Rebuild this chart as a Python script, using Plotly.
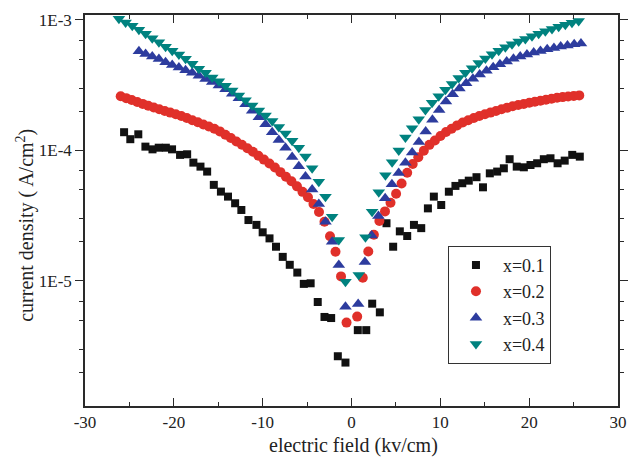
import plotly.graph_objects as go

# ---------------- data ----------------
series_names = ["x=0.1", "x=0.2", "x=0.3", "x=0.4"]

# x = 0.1  (black squares)
e_01 = [-25.6, -24.9, -24.0, -23.2, -22.4, -21.7, -20.9, -20.2, -19.3, -18.5,
        -17.8, -17.0, -16.25, -15.5, -14.7, -13.9, -13.1, -12.4, -11.6, -10.7,
        -10.0, -9.23, -8.5, -7.74, -6.95, -6.1, -5.37, -4.6, -3.8, -3.04,
        -2.29, -1.54, -0.68,
        0.71, 1.66, 2.33, 3.19, 3.94, 4.69, 5.44, 6.27, 7.03, 7.85,
        8.6, 9.27, 10.1, 10.96, 11.7, 12.47, 13.2, 14.07, 14.8, 15.57,
        16.4, 17.15, 17.8, 18.6, 19.4, 20.15, 20.9, 21.65, 22.4, 23.2,
        24.0, 24.85, 25.7]
j_01 = [1.38e-4, 1.22e-4, 1.33e-4, 1.07e-4, 1.02e-4, 1.05e-4, 1.05e-4, 1.02e-4, 9.25e-5, 9.35e-5,
        8.07e-5, 7.52e-5, 6.89e-5, 5.45e-5, 4.84e-5, 4.43e-5, 3.94e-5, 3.50e-5, 2.93e-5, 2.69e-5,
        2.36e-5, 2.12e-5, 1.83e-5, 1.53e-5, 1.33e-5, 1.16e-5, 9.5e-6, 9.6e-6, 6.9e-6, 5.3e-6,
        5.2e-6, 2.65e-6, 2.37e-6,
        4.2e-6, 4.2e-6, 6.7e-6, 5.75e-6, 2.77e-5, 1.83e-5, 2.4e-5, 2.21e-5, 2.69e-5, 2.54e-5,
        3.6e-5, 4.43e-5, 3.82e-5, 4.83e-5, 5.35e-5, 5.61e-5, 5.87e-5, 6.24e-5, 5.22e-5, 6.68e-5,
        6.89e-5, 7.3e-5, 8.57e-5, 7.52e-5, 7.43e-5, 7.74e-5, 7.98e-5, 8.57e-5, 8.71e-5, 7.98e-5,
        8.36e-5, 9.25e-5, 8.97e-5]

# x = 0.2  (red circles)  -- log10 of current density
e_02 = [-25.98, -25.36, -24.74, -24.12, -23.50, -22.88, -22.26, -21.64, -21.02, -20.40,
        -19.78, -19.16, -18.54, -17.92, -17.30, -16.68, -16.06, -15.44, -14.82, -14.20,
        -13.58, -12.96, -12.34, -11.72, -11.10, -10.48, -9.86, -9.24, -8.62, -8.00,
        -7.38, -6.76, -6.14, -5.52, -4.90, -4.28, -3.66, -3.04, -2.42, -1.80,
        -1.18, -0.56,
        0.64, 1.27, 1.89, 2.52, 3.14, 3.77, 4.39, 5.02, 5.64, 6.27,
        6.89, 7.52, 8.14, 8.77, 9.39, 10.02, 10.64, 11.27, 11.89, 12.52,
        13.14, 13.77, 14.39, 15.02, 15.64, 16.27, 16.89, 17.52, 18.14, 18.77,
        19.39, 20.02, 20.64, 21.27, 21.89, 22.52, 23.14, 23.77, 24.39, 25.02,
        25.64]
logj_02 = [-3.584, -3.599, -3.613, -3.628, -3.643, -3.657, -3.671, -3.684, -3.697, -3.710,
           -3.723, -3.736, -3.751, -3.768, -3.784, -3.801, -3.817, -3.834, -3.854, -3.880,
           -3.905, -3.931, -3.956, -3.983, -4.010, -4.040, -4.070, -4.100, -4.131, -4.166,
           -4.201, -4.236, -4.275, -4.317, -4.359, -4.410, -4.471, -4.546, -4.657, -4.776,
           -4.965, -5.319,
           -5.273, -4.975, -4.774, -4.646, -4.540, -4.467, -4.400, -4.332, -4.253, -4.171,
           -4.104, -4.052, -4.002, -3.957, -3.923, -3.889, -3.858, -3.833, -3.808, -3.786,
           -3.769, -3.751, -3.736, -3.723, -3.710, -3.697, -3.684, -3.672, -3.661, -3.652,
           -3.644, -3.635, -3.627, -3.619, -3.611, -3.604, -3.596, -3.591, -3.586, -3.582,
           -3.578]

# x = 0.3  (blue up-triangles)
e_03 = [-23.93, -23.18, -22.43, -21.68, -20.93, -20.18, -19.43, -18.68, -17.93, -17.18,
        -16.43, -15.68, -14.93, -14.18, -13.43, -12.68, -11.93, -11.18, -10.43, -9.68,
        -8.93, -8.18, -7.43, -6.68, -5.93, -5.18, -4.43, -3.68, -2.93, -2.18,
        -1.43, -0.68,
        0.75, 1.51, 2.27, 3.03, 3.79, 4.55, 5.31, 6.07, 6.83, 7.59,
        8.35, 9.11, 9.87, 10.63, 11.39, 12.15, 12.91, 13.67, 14.43, 15.19,
        15.95, 16.71, 17.47, 18.23, 18.99, 19.75, 20.51, 21.27, 22.03, 22.79,
        23.55, 24.31, 25.07, 25.83]
logj_03 = [-3.240, -3.260, -3.280, -3.300, -3.325, -3.345, -3.365, -3.385, -3.405, -3.428,
           -3.452, -3.476, -3.502, -3.530, -3.565, -3.600, -3.645, -3.695, -3.745, -3.800,
           -3.860, -3.920, -3.980, -4.050, -4.120, -4.200, -4.300, -4.410, -4.546, -4.699,
           -4.877, -5.197,
           -5.176, -4.855, -4.652, -4.502, -4.367, -4.258, -4.172, -4.095, -4.015, -3.935,
           -3.855, -3.765, -3.690, -3.625, -3.570, -3.525, -3.485, -3.450, -3.418, -3.390,
           -3.362, -3.340, -3.318, -3.298, -3.280, -3.264, -3.250, -3.237, -3.225, -3.214,
           -3.204, -3.195, -3.187, -3.180]

# x = 0.4  (teal down-triangles)
e_04 = [-26.18, -25.43, -24.68, -23.93, -23.18, -22.43, -21.68, -20.93, -20.18, -19.43,
        -18.68, -17.93, -17.18, -16.43, -15.68, -14.93, -14.18, -13.43, -12.68, -11.93,
        -11.18, -10.43, -9.68, -8.93, -8.18, -7.43, -6.68, -5.93, -5.18, -4.43,
        -3.68, -2.93, -2.18, -1.43, -0.68,
        0.82, 1.57, 2.32, 3.07, 3.82, 4.57, 5.32, 6.07, 6.82, 7.57,
        8.32, 9.07, 9.82, 10.57, 11.32, 12.07, 12.82, 13.57, 14.32, 15.07,
        15.82, 16.57, 17.32, 18.07, 18.82, 19.57, 20.32, 21.07, 21.82, 22.57,
        23.32, 24.07, 24.82, 25.57]
logj_04 = [-2.990, -3.020, -3.045, -3.075, -3.105, -3.140, -3.170, -3.205, -3.235, -3.265,
           -3.298, -3.335, -3.373, -3.405, -3.440, -3.470, -3.505, -3.540, -3.578, -3.615,
           -3.655, -3.693, -3.732, -3.775, -3.820, -3.870, -3.925, -3.980, -4.047, -4.137,
           -4.239, -4.354, -4.507, -4.686, -5.005,
           -4.954, -4.665, -4.469, -4.320, -4.190, -4.090, -4.000, -3.900, -3.830, -3.760,
           -3.690, -3.635, -3.585, -3.535, -3.490, -3.445, -3.405, -3.370, -3.330, -3.295,
           -3.262, -3.235, -3.210, -3.187, -3.165, -3.145, -3.125, -3.105, -3.087, -3.070,
           -3.052, -3.036, -3.022, -3.008]

x_tick_vals = [-30, -20, -10, 0, 10, 20, 30]
x_tick_text = ["-30", "-20", "-10", "0", "10", "20", "30"]
y_tick_vals = [1e-5, 1e-4, 1e-3]
y_tick_text = ["1E-5", "1E-4", "1E-3"]
y_minor_vals = [m * d for d in (1e-6, 1e-5, 1e-4) for m in (2, 3, 5, 7)]
x_title = "electric field (kv/cm)"
y_title = "current density ( A/cm<sup>2</sup>)"

# ---------------- figure ----------------
FONT = "Liberation Serif, Times New Roman, DejaVu Serif, serif"
AX = "#2a2a2a"

fig = go.Figure()
fig.add_trace(go.Scatter(x=e_01, y=j_01, mode="markers", name=series_names[0],
                         marker=dict(symbol="square", size=8, color="#111111")))
fig.add_trace(go.Scatter(x=e_02, y=[10 ** v for v in logj_02], mode="markers", name=series_names[1],
                         marker=dict(symbol="circle", size=10, color="#e0302a")))
fig.add_trace(go.Scatter(x=e_03, y=[10 ** v for v in logj_03], mode="markers", name=series_names[2],
                         marker=dict(symbol="triangle-up", size=11, color="#2d3c9e")))
fig.add_trace(go.Scatter(x=e_04, y=[10 ** v for v in logj_04], mode="markers", name=series_names[3],
                         marker=dict(symbol="triangle-down", size=11, color="#00827f")))

fig.update_layout(
    width=629, height=458,
    margin=dict(l=85, r=11, t=15, b=52, autoexpand=False),
    paper_bgcolor="white", plot_bgcolor="white",
    font=dict(family=FONT, size=17, color="#222222"),
    showlegend=True,
    legend=dict(x=0.681, y=0.41, xanchor="left", yanchor="top",
                bordercolor="#333333", borderwidth=1, bgcolor="white",
                font=dict(family=FONT, size=18, color="#222222"),
                itemwidth=44, tracegroupgap=0),
    annotations=[
        dict(text=y_title, textangle=-90, xref="paper", yref="paper",
             x=-0.111, y=0.463, xanchor="center", yanchor="middle",
             showarrow=False, font=dict(family=FONT, size=20, color="#222222")),
        dict(text=x_title, xref="paper", yref="paper",
             x=0.503, y=-0.101, xanchor="center", yanchor="middle",
             showarrow=False, font=dict(family=FONT, size=20, color="#222222")),
    ],
)
fig.update_xaxes(
    range=[-30, 30], tickmode="array", tickvals=x_tick_vals, ticktext=x_tick_text,
    ticks="inside", ticklen=8, tickwidth=1.2, tickcolor=AX,
    minor=dict(dtick=5, tick0=0, ticks="inside", ticklen=4, tickwidth=1.2, tickcolor=AX, showgrid=False),
    showline=True, linecolor=AX, linewidth=1.5, mirror="allticks",
    showgrid=False, zeroline=False, automargin=False,
    tickfont=dict(family=FONT, size=17),
)
fig.update_yaxes(
    type="log", range=[-5.958, -2.962],
    tickmode="array", tickvals=y_tick_vals, ticktext=y_tick_text,
    ticks="outside", ticklen=8, tickwidth=1.2, tickcolor=AX,
    minor=dict(tickmode="array", tickvals=y_minor_vals, ticks="outside", ticklen=4,
               tickwidth=1.2, tickcolor=AX, showgrid=False),
    showline=True, linecolor=AX, linewidth=1.5, mirror="allticks",
    showgrid=False, zeroline=False, automargin=False,
    tickfont=dict(family=FONT, size=17),
)

fig.write_html("out.html", config={"displayModeBar": False},
               post_script="document.body.style.margin='0';document.body.style.padding='0';")
